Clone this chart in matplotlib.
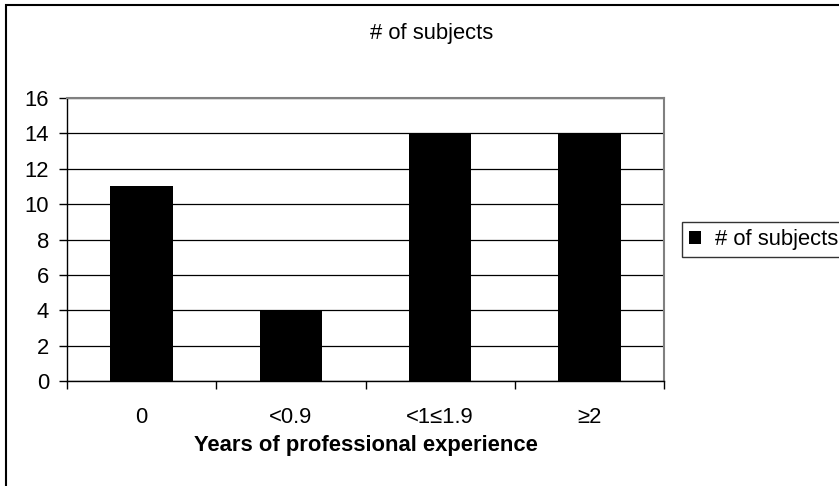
import matplotlib
matplotlib.use("Agg")
import matplotlib.pyplot as plt
from matplotlib.patches import Rectangle

plt.rcParams["font.family"] = ["Liberation Sans", "DejaVu Sans"]

# data
categories = ["0", "<0.9", "<1\u22641.9", "\u22652"]
subjects = [11, 4, 14, 14]
series_name = "# of subjects"
y_ticks = [0, 2, 4, 6, 8, 10, 12, 14, 16]

W, H = 839, 486
fig = plt.figure(figsize=(W / 100, H / 100), dpi=100)
fs = 15.8

# outer chart border (right and bottom run off the image)
fig.patches.append(Rectangle((6 / W, -0.1), 1.2, 1 - 5 / H + 0.1,
                             transform=fig.transFigure, fill=False,
                             edgecolor="black", linewidth=1.5))

# plot area in pixel coords: left 67, right 664, top 98, bottom 381
ax = fig.add_axes([67 / W, (H - 381) / H, (664 - 67) / W, (381 - 98) / H])

x = list(range(len(categories)))
ax.bar(x, subjects, width=0.42, color="black", label=series_name, zorder=3)

ax.set_xlim(-0.5, len(categories) - 0.5)
ax.set_ylim(0, 16)
ax.set_yticks(y_ticks)
ax.set_yticklabels([str(v) for v in y_ticks], fontsize=fs)
ax.yaxis.grid(True, color="black", linewidth=0.9, zorder=0)

# category boundaries get the tick marks, labels sit at the centres
ax.set_xticks([i - 0.5 for i in range(len(categories) + 1)])
ax.set_xticklabels([])
ax.set_xticks(x, minor=True)
ax.set_xticklabels(categories, minor=True, fontsize=fs)
ax.tick_params(axis="x", which="minor", length=0, pad=19)
ax.tick_params(axis="x", which="major", length=6, width=1)
ax.tick_params(axis="y", length=6, width=1, pad=7)

for side in ("top", "right"):
    ax.spines[side].set_color("#808080")
    ax.spines[side].set_linewidth(1.5)
for side in ("left", "bottom"):
    ax.spines[side].set_color("black")
    ax.spines[side].set_linewidth(1)

ax.set_xlabel("Years of professional experience", fontsize=fs,
              fontweight="bold", labelpad=5)

fig.text(432 / W, 1 - 34 / H, series_name, fontsize=fs, ha="center", va="center")

leg = fig.legend(loc="upper left", bbox_to_anchor=(682 / W, 1 - 222 / H),
                 fontsize=fs, frameon=True, fancybox=False, handlelength=0.55,
                 handleheight=0.55, handletextpad=0.65, borderpad=0.32,
                 borderaxespad=0)
leg.get_frame().set_edgecolor("black")
leg.get_frame().set_linewidth(1)

fig.savefig("out.png", dpi=100)
